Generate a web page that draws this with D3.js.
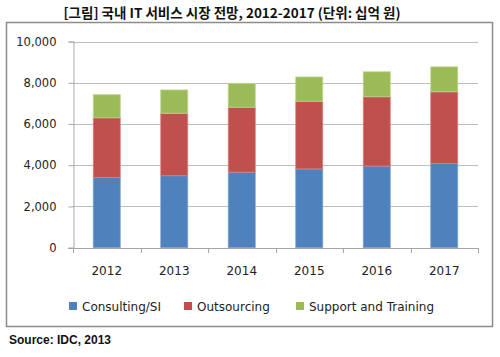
<!DOCTYPE html>
<html><head><meta charset="utf-8">
<script src="https://cdn.jsdelivr.net/npm/d3@7"></script>
<style>body{margin:0;background:#fff;}svg{display:block;}</style>
</head><body>
<svg id="c" width="500" height="357"></svg>
<script>
const title = "[그림] 국내 IT 서비스 시장 전망, 2012-2017 (단위: 십억 원)";
const source = "Source: IDC, 2013";
const years = ["2012","2013","2014","2015","2016","2017"];
const seriesNames = ["Consulting/SI","Outsourcing","Support and Training"];
const consulting = [3410, 3490, 3660, 3820, 3960, 4090];
const outsourcing = [2890, 3030, 3150, 3280, 3360, 3470];
const support = [1120, 1130, 1160, 1180, 1210, 1210];
const colors = ["#4F81BD","#C0504D","#9BBB59"];
const edge = ["#7DA3D6","#D9807D","#BCD58A"];
const yTicks = [0,2000,4000,6000,8000,10000];

const svg = d3.select("#c");
const table = years.map((y,i)=>({year:y, "Consulting/SI":consulting[i], "Outsourcing":outsourcing[i], "Support and Training":support[i]}));
const stack = d3.stack().keys(seriesNames)(table);

const x = d3.scaleBand().domain(years).range([73,478]);
const y = d3.scaleLinear().domain([0,10000]).range([247.7,41.5]);

// chart border
svg.append("rect").attr("x",6.5).attr("y",22.5).attr("width",486).attr("height",304)
  .attr("fill","#fff").attr("stroke","#8c8c8c").attr("stroke-width",1.5);

// title
svg.append("text").attr("x",232).attr("y",18).attr("text-anchor","middle")
  .attr("font-family","'Noto Sans CJK KR'").attr("font-weight","bold").attr("font-size",13.5)
  .attr("fill","#111").text(title);

// gridlines
svg.append("g").selectAll("line").data(yTicks.filter(d=>d>0)).join("line")
  .attr("x1",73).attr("x2",478).attr("y1",d=>Math.round(y(d))+0.5).attr("y2",d=>Math.round(y(d))+0.5)
  .attr("stroke","#bdbdbd").attr("stroke-width",1);

// y axis
const yAxis = d3.axisLeft(y).tickValues(yTicks).tickSize(5).tickPadding(12).tickFormat(d3.format(","));
const gy = svg.append("g").attr("transform","translate(73.5,0)").call(yAxis);
gy.select(".domain").attr("stroke","#a6a6a6");
gy.selectAll(".tick line").attr("stroke","#a6a6a6");
gy.selectAll(".tick text").attr("font-family","'DejaVu Sans'").attr("font-size",11.5).attr("fill","#222");

// bars
const bw = x.bandwidth()*0.4;
svg.append("g").selectAll("g").data(stack).join("g")
  .each(function(s,si){
    d3.select(this).selectAll("rect").data(s).join("rect")
      .attr("x",d=>x(d.data.year)+x.bandwidth()/2-bw/2)
      .attr("width",bw)
      .attr("y",d=>y(d[1]))
      .attr("height",d=>y(d[0])-y(d[1]))
      .attr("fill",colors[si]).attr("stroke",edge[si]).attr("stroke-width",0.8);
  });

// x axis
const xAxis = d3.axisBottom(x).tickSize(0).tickPadding(18);
const gx = svg.append("g").attr("transform","translate(0,248)").call(xAxis);
gx.select(".domain").remove();
gx.selectAll(".tick text").attr("font-family","'DejaVu Sans'").attr("font-size",12).attr("fill","#222");
svg.append("line").attr("x1",68).attr("x2",478).attr("y1",248.5).attr("y2",248.5).attr("stroke","#a6a6a6");
const bounds = years.map(v=>x(v)).concat([478]);
svg.append("g").selectAll("line").data(bounds).join("line")
  .attr("x1",d=>Math.round(d)+0.5).attr("x2",d=>Math.round(d)+0.5).attr("y1",248).attr("y2",253)
  .attr("stroke","#a6a6a6");

// legend
const legX = [69,184,296];
const lg = svg.append("g").selectAll("g").data(seriesNames).join("g")
  .attr("transform",(d,i)=>`translate(${legX[i]},302)`);
lg.append("rect").attr("width",8).attr("height",8).attr("fill",(d,i)=>colors[i]);
lg.append("text").attr("x",13).attr("y",8.5).attr("font-family","'DejaVu Sans'").attr("font-size",12)
  .attr("fill","#222").text(d=>d);

// source
svg.append("text").attr("x",9).attr("y",344).attr("font-family","'Liberation Sans'").attr("font-weight","bold")
  .attr("font-size",12).attr("fill","#111").text(source);
</script>
</body></html>
